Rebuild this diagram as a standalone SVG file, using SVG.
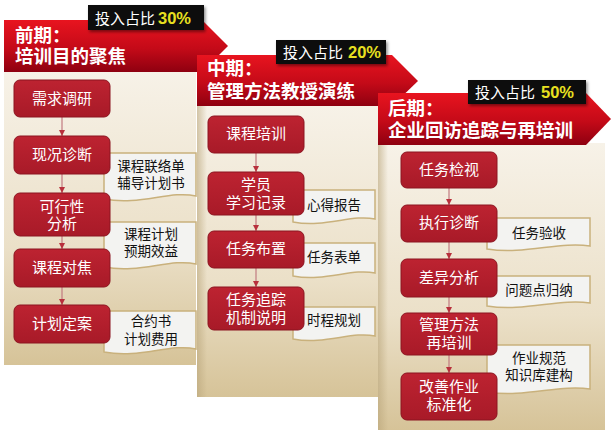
<svg xmlns="http://www.w3.org/2000/svg" width="613" height="433" viewBox="0 0 613 433">
<defs>
<linearGradient id="body" x1="0" y1="0" x2="0" y2="1">
<stop offset="0" stop-color="#f7f2e8"/>
<stop offset="0.6" stop-color="#ebe0c8"/>
<stop offset="1" stop-color="#d6c398"/>
</linearGradient>
<linearGradient id="edge" x1="0" y1="0" x2="1" y2="0">
<stop offset="0" stop-color="#b9a57a" stop-opacity="0.6"/>
<stop offset="1" stop-color="#b9a57a" stop-opacity="0"/>
</linearGradient>
<linearGradient id="head" x1="0" y1="0" x2="0" y2="1">
<stop offset="0" stop-color="#e8141f"/>
<stop offset="0.55" stop-color="#c40a18"/>
<stop offset="1" stop-color="#8e0010"/>
</linearGradient>
<linearGradient id="node" x1="0" y1="0" x2="0" y2="1">
<stop offset="0" stop-color="#bd2331"/>
<stop offset="1" stop-color="#a81a28"/>
</linearGradient>
<marker id="ah" viewBox="0 0 10 10" refX="10" refY="5" markerWidth="5" markerHeight="5" orient="auto">
<path d="M0,0 L10,5 L0,10 z" fill="#b8303c"/>
</marker>
<filter id="sh" x="-10%" y="-10%" width="130%" height="140%">
<feDropShadow dx="1.5" dy="2" stdDeviation="1.5" flood-color="#000" flood-opacity="0.45"/>
</filter>
</defs>
<style>
.node rect{fill:url(#node);stroke:#8c1420;stroke-width:1}
.nt{font-family:"Noto Sans CJK SC","Noto Sans",sans-serif;font-size:15px;fill:#fff;text-anchor:middle}
.doc path{fill:#f3f3f1;stroke:#c9b17c;stroke-width:1.5}
.dt{font-family:"Noto Sans CJK SC","Noto Sans",sans-serif;font-size:13.5px;fill:#111;text-anchor:middle}
.ht{font-family:"Noto Sans CJK SC","Noto Sans",sans-serif;font-size:18.5px;font-weight:bold;fill:#fff}
.bt{font-family:"Noto Sans CJK SC","Noto Sans",sans-serif;font-size:15px;fill:#fff}
.pct{font-family:"Liberation Sans",Arial,sans-serif;font-size:16.5px;font-weight:bold;fill:#e8e020}
.badge{fill:#0c0c0c}
.conn line{stroke:#c27a80;stroke-width:1.2;marker-end:url(#ah)}
</style>

<!-- Panel 1 -->
<g id="panel1">
<rect x="4" y="70" width="192" height="295" fill="url(#body)"/>
<polygon points="4,20 202,20 228,46 202,72 4,72" fill="url(#head)"/>
<text class="ht"><tspan x="15" y="42">前期：</tspan><tspan x="15" y="63">培训目的聚焦</tspan></text>
<rect class="badge" x="88" y="5" width="116" height="25" filter="url(#sh)"/>
<text class="bt" x="95" y="24">投入占比<tspan class="pct" x="158">30%</tspan></text>
</g>

<!-- Panel 2 -->
<g id="panel2">
<rect x="197" y="104" width="181" height="293" fill="url(#body)"/>
<rect x="197" y="104" width="10" height="293" fill="url(#edge)"/>
<polygon points="197,55 392,55 418,81 392,106 197,106" fill="url(#head)"/>
<text class="ht"><tspan x="207" y="75">中期：</tspan><tspan x="207" y="98">管理方法教授演练</tspan></text>
<rect class="badge" x="276" y="40" width="110" height="24" filter="url(#sh)"/>
<text class="bt" x="283" y="58">投入占比<tspan class="pct" x="348">20%</tspan></text>
</g>

<!-- Panel 3 -->
<g id="panel3">
<rect x="378" y="143" width="227" height="287" fill="url(#body)"/>
<rect x="378" y="143" width="10" height="287" fill="url(#edge)"/>
<polygon points="378,93 586,93 611,119 586,145 378,145" fill="url(#head)"/>
<text class="ht"><tspan x="388" y="115">后期：</tspan><tspan x="388" y="137">企业回访追踪与再培训</tspan></text>
<rect class="badge" x="468" y="80" width="118" height="24" filter="url(#sh)"/>
<text class="bt" x="475" y="98">投入占比<tspan class="pct" x="541">50%</tspan></text>
</g>

<!-- Documents -->
<g id="doc1a" class="doc"><path d="M104,153 H196 V196 C170,190 140,206 104,199 Z"/><text class="dt"><tspan x="151" y="171">课程联络单</tspan><tspan x="151" y="188">辅导计划书</tspan></text></g>
<g id="doc1b" class="doc"><path d="M104,222 H196 V264 C170,258 140,274 104,267 Z"/><text class="dt"><tspan x="151" y="239">课程计划</tspan><tspan x="151" y="256">预期效益</tspan></text></g>
<g id="doc1c" class="doc"><path d="M104,311 H196 V349 C170,343 140,359 104,352 Z"/><text class="dt"><tspan x="151" y="326">合约书</tspan><tspan x="151" y="344">计划费用</tspan></text></g>

<g id="doc2a" class="doc"><path d="M293,190 H375 V219 C352,214 325,228 293,222 Z"/><text class="dt" x="334" y="210">心得报告</text></g>
<g id="doc2b" class="doc"><path d="M293,243 H375 V273 C352,268 325,282 293,276 Z"/><text class="dt" x="334" y="262">任务表单</text></g>
<g id="doc2c" class="doc"><path d="M293,307 H375 V336 C352,331 325,345 293,339 Z"/><text class="dt" x="334" y="325">时程规划</text></g>

<g id="doc3a" class="doc"><path d="M487,218 H590 V246 C560,241 525,255 487,249 Z"/><text class="dt" x="539" y="238">任务验收</text></g>
<g id="doc3b" class="doc"><path d="M487,276 H590 V303 C560,298 525,312 487,306 Z"/><text class="dt" x="539" y="295">问题点归纳</text></g>
<g id="doc3c" class="doc"><path d="M487,345 H590 V389 C560,384 525,398 487,392 Z"/><text class="dt"><tspan x="539" y="363">作业规范</tspan><tspan x="539" y="380">知识库建构</tspan></text></g>

<!-- Connectors -->
<g id="connectors" class="conn">
<line x1="62" y1="117" x2="62" y2="136"/>
<line x1="62" y1="174" x2="62" y2="193"/>
<line x1="62" y1="236" x2="62" y2="249"/>
<line x1="62" y1="287" x2="62" y2="305"/>
<line x1="256" y1="153" x2="256" y2="172"/>
<line x1="256" y1="215" x2="256" y2="231"/>
<line x1="256" y1="268" x2="256" y2="287"/>
<line x1="449" y1="188" x2="449" y2="205"/>
<line x1="449" y1="242" x2="449" y2="259"/>
<line x1="449" y1="297" x2="449" y2="313"/>
<line x1="449" y1="355" x2="449" y2="373"/>
</g>

<!-- Nodes panel 1 -->
<g id="n1" class="node"><rect x="14" y="80" width="96" height="37" rx="6"/><text class="nt" x="62" y="104">需求调研</text></g>
<g id="n2" class="node"><rect x="14" y="136" width="96" height="38" rx="6"/><text class="nt" x="62" y="160">现况诊断</text></g>
<g id="n3" class="node"><rect x="14" y="193" width="96" height="43" rx="6"/><text class="nt"><tspan x="62" y="212">可行性</tspan><tspan x="62" y="229">分析</tspan></text></g>
<g id="n4" class="node"><rect x="14" y="249" width="96" height="38" rx="6"/><text class="nt" x="62" y="273">课程对焦</text></g>
<g id="n5" class="node"><rect x="14" y="305" width="96" height="38" rx="6"/><text class="nt" x="62" y="329">计划定案</text></g>

<!-- Nodes panel 2 -->
<g id="m1" class="node"><rect x="208" y="116" width="96" height="37" rx="6"/><text class="nt" x="256" y="139">课程培训</text></g>
<g id="m2" class="node"><rect x="208" y="172" width="96" height="43" rx="6"/><text class="nt"><tspan x="256" y="190">学员</tspan><tspan x="256" y="208">学习记录</tspan></text></g>
<g id="m3" class="node"><rect x="208" y="231" width="96" height="37" rx="6"/><text class="nt" x="256" y="254">任务布置</text></g>
<g id="m4" class="node"><rect x="208" y="287" width="96" height="43" rx="6"/><text class="nt"><tspan x="256" y="305">任务追踪</tspan><tspan x="256" y="323">机制说明</tspan></text></g>

<!-- Nodes panel 3 -->
<g id="k1" class="node"><rect x="401" y="152" width="96" height="36" rx="6"/><text class="nt" x="449" y="175">任务检视</text></g>
<g id="k2" class="node"><rect x="401" y="205" width="96" height="37" rx="6"/><text class="nt" x="449" y="228">执行诊断</text></g>
<g id="k3" class="node"><rect x="401" y="259" width="96" height="38" rx="6"/><text class="nt" x="449" y="283">差异分析</text></g>
<g id="k4" class="node"><rect x="401" y="313" width="96" height="42" rx="6"/><text class="nt"><tspan x="449" y="330">管理方法</tspan><tspan x="449" y="348">再培训</tspan></text></g>
<g id="k5" class="node"><rect x="401" y="373" width="96" height="47" rx="6"/><text class="nt"><tspan x="449" y="392">改善作业</tspan><tspan x="449" y="410">标准化</tspan></text></g>
</svg>
